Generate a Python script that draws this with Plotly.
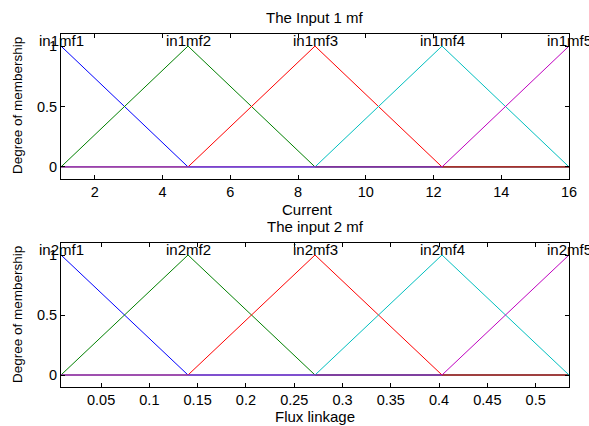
import plotly.graph_objects as go
from plotly.subplots import make_subplots

# breakpoints of the triangular membership functions
current_x = [1, 4.75, 8.5, 12.25, 16]
flux_x = [0.0085, 0.14, 0.2715, 0.403, 0.5345]

# membership values at the breakpoints (same for both inputs)
mf1 = [1, 0, 0, 0, 0]
mf2 = [0, 1, 0, 0, 0]
mf3 = [0, 0, 1, 0, 0]
mf4 = [0, 0, 0, 1, 0]
mf5 = [0, 0, 0, 0, 1]
mf_values = [mf1, mf2, mf3, mf4, mf5]

in1_names = ["in1mf1", "in1mf2", "in1mf3", "in1mf4", "in1mf5"]
in2_names = ["in2mf1", "in2mf2", "in2mf3", "in2mf4", "in2mf5"]

colors = ["#0000ff", "#008000", "#ff0000", "#00bfbf", "#bf00bf"]

W, H = 589, 426
FONT = "Liberation Sans, Arial, sans-serif"
FS = 15

fig = make_subplots(rows=2, cols=1)

for ys, c in zip(mf_values, colors):
    fig.add_trace(go.Scatter(x=current_x, y=ys, mode="lines",
                             line=dict(color=c, width=1), showlegend=False), row=1, col=1)
for ys, c in zip(mf_values, colors):
    fig.add_trace(go.Scatter(x=flux_x, y=ys, mode="lines",
                             line=dict(color=c, width=1), showlegend=False), row=2, col=1)

axis_style = dict(showline=True, linecolor="black", linewidth=1, mirror="allticks",
                  ticks="inside", ticklen=4, tickcolor="black", showgrid=False,
                  zeroline=False, tickfont=dict(family=FONT, size=14.5, color="black"))

fig.update_xaxes(axis_style)
fig.update_yaxes(axis_style)
fig.update_xaxes(range=[current_x[0], current_x[-1]], tickvals=[2, 4, 6, 8, 10, 12, 14, 16],
                 row=1, col=1)
fig.update_xaxes(range=[flux_x[0], flux_x[-1]],
                 tickvals=[0.05, 0.1, 0.15, 0.2, 0.25, 0.3, 0.35, 0.4, 0.45, 0.5],
                 ticktext=["0.05", "0.1", "0.15", "0.2", "0.25", "0.3", "0.35", "0.4", "0.45", "0.5"],
                 row=2, col=1)
fig.update_yaxes(range=[-0.1, 1.1], tickvals=[0, 0.5, 1], ticktext=["0", "0.5", "1"])

fig.update_layout(
    width=W, height=H,
    margin=dict(l=0, r=0, t=0, b=0, autoexpand=False),
    paper_bgcolor="white", plot_bgcolor="white",
    font=dict(family=FONT, size=FS, color="black"),
)
fig.layout.xaxis.domain = [61 / W, 569 / W]
fig.layout.xaxis2.domain = [61 / W, 569 / W]
fig.layout.yaxis.domain = [1 - 179 / H, 1 - 34 / H]
fig.layout.yaxis2.domain = [1 - 387 / H, 1 - 243 / H]

# membership function names above the peaks
for x, name in zip(current_x, in1_names):
    fig.add_annotation(x=x, y=1.05, xref="x", yref="y", text=name, showarrow=False,
                       xanchor="center", yanchor="middle", font=dict(size=FS))
for x, name in zip(flux_x, in2_names):
    fig.add_annotation(x=x, y=1.05, xref="x2", yref="y2", text=name, showarrow=False,
                       xanchor="center", yanchor="middle", font=dict(size=FS))

# titles and axis labels
texts = [
    ("The Input 1 mf", 315, 17, 0, FS),
    ("Current", 307, 209, 0, FS),
    ("The input 2 mf", 315, 226, 0, FS),
    ("Flux linkage", 315, 416, 0, FS),
    ("Degree of membership", 17, 106, -90, 13.5),
    ("Degree of membership", 17, 315, -90, 13.5),
]
for t, px, py, ang, fs in texts:
    fig.add_annotation(x=px / W, y=1 - py / H, xref="paper", yref="paper", text=t,
                       showarrow=False, xanchor="center", yanchor="middle",
                       textangle=ang, font=dict(size=fs))

# the page body has a default 8px margin; remove it so the figure fills the window
fig.write_html("out.html", config={"displayModeBar": False},
               post_script="document.body.style.margin='0';")
